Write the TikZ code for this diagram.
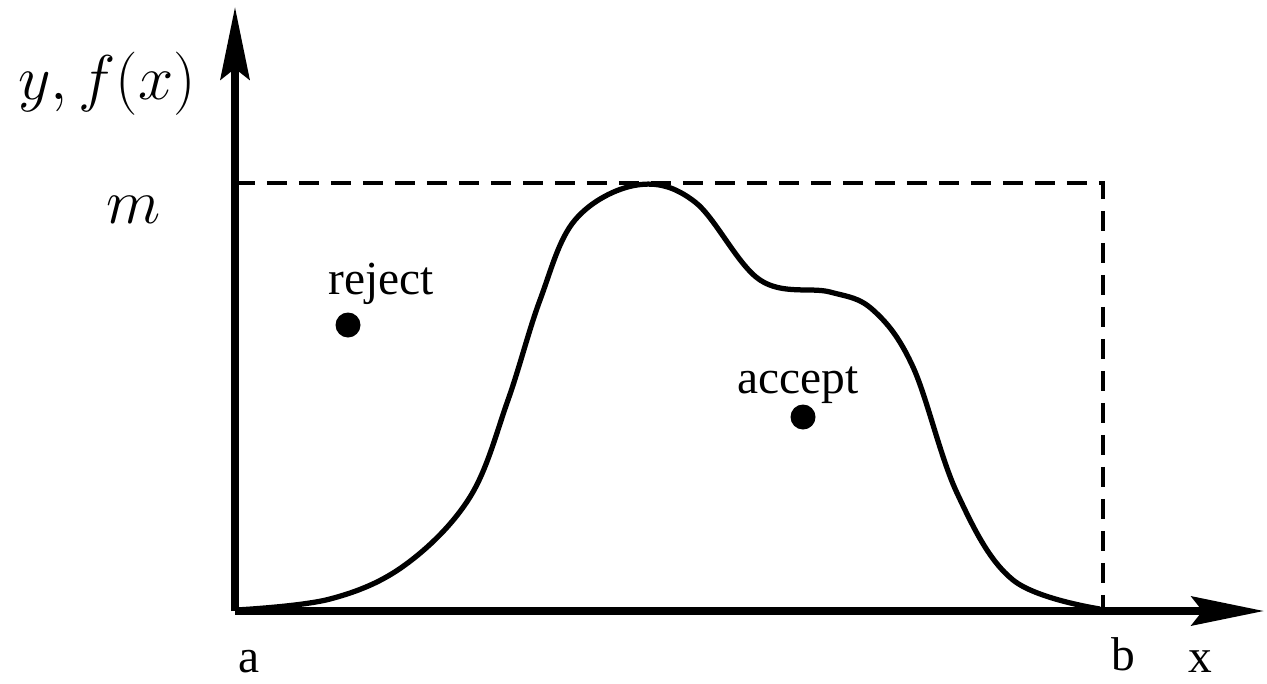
\documentclass[tikz,border=0pt]{standalone}
\usepackage{fix-cm}
\usepackage{fontspec}
\setmainfont{Liberation Serif}
\usetikzlibrary{arrows.meta}
\begin{document}
\begin{tikzpicture}[x=0.02cm,y=-0.02cm,
  axisline/.style={line width=0.15cm,-{Stealth[length=1.45cm,width=0.58cm,inset=0.22cm]}},
  boundline/.style={line width=0.095cm,dash pattern=on 0.4cm off 0.24cm},
  density/.style={line width=0.105cm,line join=round},
  sample/.style={circle,fill=black,inner sep=0pt,minimum size=0.5cm},
  word/.style={anchor=base,inner sep=0pt,font=\fontsize{27}{32}\selectfont},
  mathlabel/.style={anchor=base,inner sep=0pt,font=\fontsize{36}{42}\selectfont}]
  \useasboundingbox (0,0) rectangle (1267,683);

  % axes
  \coordinate (O) at (235,611);
  \coordinate (ytip) at (235,7);
  \coordinate (xtip) at (1264,611);
  \draw[axisline] (O) -- (ytip);
  \draw[axisline] (O) -- (xtip);

  % envelope m over [a,b]
  \coordinate (mleft) at (235,183);
  \coordinate (mright) at (1103,183);
  \coordinate (bfoot) at (1103,611);
  \draw[boundline] (mleft) -- (mright) -- (bfoot);

  % target density f(x)
  \draw[density] plot[smooth,tension=0.6] coordinates {
    (236,610) (330,599) (405,565) (470,497) (508,400) (540,300)
    (575,220) (637,185) (695,202) (760,280) (830,292) (873,310)
    (913,367) (957,493) (1013,580) (1100,609)};

  % sample points
  \node[sample] (rej) at (348,325) {};
  \node[sample] (acc) at (803,417) {};
  \node[word] (rejlabel) at (381,294) {reject};
  \node[word] (acclabel) at (798,393) {accept};

  % axis labels
  \node[mathlabel] (ylabel) at (107,99) {$y, f(x)$};
  \node[mathlabel] (mlabel) at (134,223) {$m$};
  \node[word] (alabel) at (249,672) {a};
  \node[word] (blabel) at (1123,670) {b};
  \node[word] (xlabel) at (1200,672) {x};
\end{tikzpicture}
\end{document}
